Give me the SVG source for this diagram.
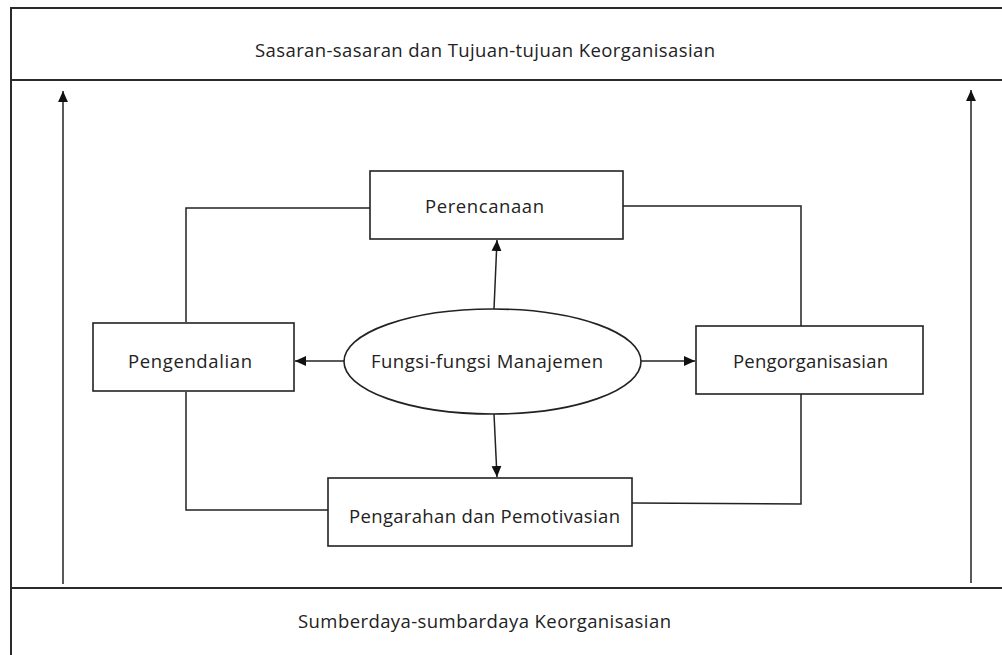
<svg xmlns="http://www.w3.org/2000/svg" width="1002" height="655" viewBox="0 0 1002 655">
<style>
.frame{stroke:#2a2a2a;stroke-width:2;fill:none}
.box{fill:#fff;stroke:#222;stroke-width:1.6}
.ln{stroke:#222;stroke-width:1.5;fill:none}
.t{font-family:"Open Sans","Noto Sans",sans-serif;font-size:18.5px;fill:#222}
</style>
<defs>
<marker id="ah" viewBox="0 0 10 10" refX="10" refY="5" markerWidth="11" markerHeight="11" markerUnits="userSpaceOnUse" orient="auto">
<path d="M0,0.5 L10,5 L0,9.5 z" fill="#111"/>
</marker>
</defs>
<rect width="1002" height="655" fill="#fff"/>
<g id="frame">
<line class="frame" x1="11" y1="8" x2="1002" y2="8"/>
<line class="frame" x1="11" y1="80" x2="1002" y2="80"/>
<line class="frame" x1="11" y1="7" x2="11" y2="655"/>
<line class="frame" x1="11" y1="588" x2="1002" y2="588"/>
</g>
<g id="goals"><text class="t" x="255" y="57" textLength="460" lengthAdjust="spacing">Sasaran-sasaran dan Tujuan-tujuan Keorganisasian</text></g>
<g id="resources"><text class="t" x="298" y="628" textLength="373" lengthAdjust="spacing">Sumberdaya-sumbardaya Keorganisasian</text></g>
<g id="connectors">
<line class="ln" x1="63" y1="584" x2="63" y2="91" marker-end="url(#ah)"/>
<line class="ln" x1="971" y1="583" x2="971" y2="90" marker-end="url(#ah)"/>
<polyline class="ln" points="370,208 186,208 186,322"/>
<polyline class="ln" points="186,392 186,510 328,510"/>
<polyline class="ln" points="623,206 801,206 801,326"/>
<polyline class="ln" points="801,393 801,504 632,503"/>
<line class="ln" x1="494" y1="309" x2="497" y2="240" marker-end="url(#ah)"/>
<line class="ln" x1="494" y1="414" x2="497" y2="477" marker-end="url(#ah)"/>
<line class="ln" x1="344" y1="361" x2="295" y2="361" marker-end="url(#ah)"/>
<line class="ln" x1="641" y1="361" x2="695" y2="361" marker-end="url(#ah)"/>
</g>
<g id="perencanaan"><rect class="box" x="370" y="171" width="253" height="68"/><text class="t" x="425" y="213" textLength="119" lengthAdjust="spacing">Perencanaan</text></g>
<g id="pengendalian"><rect class="box" x="93" y="323" width="201" height="68"/><text class="t" x="128" y="368" textLength="124" lengthAdjust="spacing">Pengendalian</text></g>
<g id="pengorganisasian"><rect class="box" x="696" y="326" width="227" height="68"/><text class="t" x="733" y="368" textLength="155" lengthAdjust="spacing">Pengorganisasian</text></g>
<g id="pengarahan"><rect class="box" x="328" y="478" width="304" height="68"/><text class="t" x="349" y="523" textLength="271" lengthAdjust="spacing">Pengarahan dan Pemotivasian</text></g>
<g id="fungsi"><ellipse class="box" cx="492.5" cy="361.5" rx="148.5" ry="52.5"/><text class="t" x="371" y="368" textLength="232" lengthAdjust="spacing">Fungsi-fungsi Manajemen</text></g>
</svg>
